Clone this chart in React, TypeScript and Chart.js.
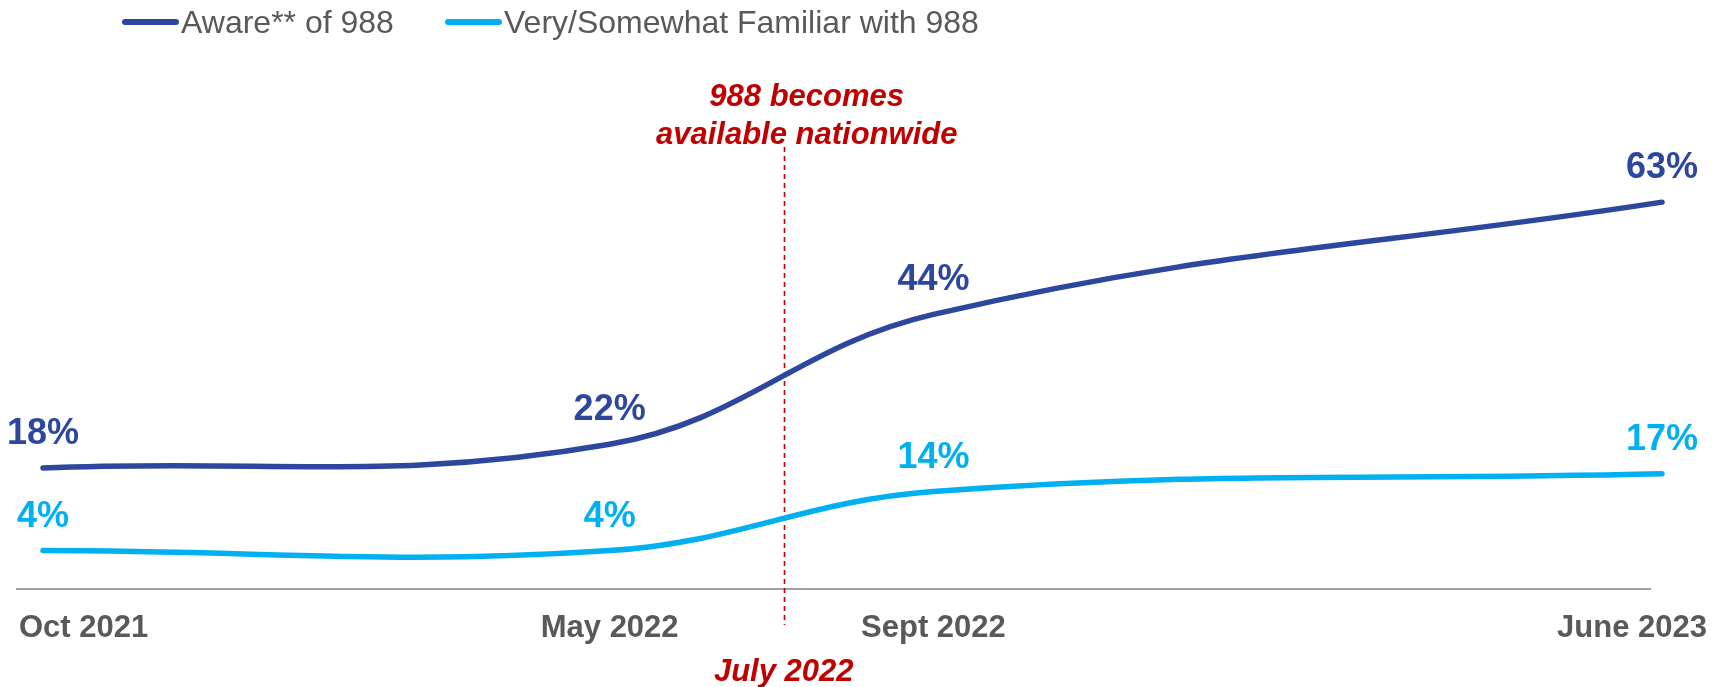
import React, { useEffect, useRef } from "react";
import { Chart, registerables } from "chart.js";

Chart.register(...registerables);

// ---- data ----
const categories = ["Oct 2021", "May 2022", "Sept 2022", "June 2023"];
const monthsSinceOct2021 = [0, 7, 11, 20];
const awareValues = [18, 22, 44, 63];
const familiarValues = [4, 4, 14, 17];
const seriesNames = ["Aware** of 988", "Very/Somewhat Familiar with 988"];
const eventMonth = 9.15; // July 2022 launch
const eventLabel = "July 2022";
const eventNote = ["988 becomes", "available nationwide"];

// ---- styles ----
const FONT = '"Liberation Sans", Arial, Helvetica, sans-serif';
const DARK_BLUE = "#2E479E";
const LIGHT_BLUE = "#00B0F0";
const RED = "#C00000";
const GRAY_TEXT = "#595959";
const AXIS_GRAY = "#808080";
const seriesColors = [DARK_BLUE, LIGHT_BLUE];

const overlayPlugin = {
  id: "overlay",
  beforeDatasetsDraw(chart: any) {
    const { ctx, chartArea, scales } = chart;
    const x = scales.x;
    ctx.save();
    // x-axis line
    ctx.strokeStyle = AXIS_GRAY;
    ctx.lineWidth = 1.5;
    ctx.beginPath();
    ctx.moveTo(chartArea.left - 27, chartArea.bottom);
    ctx.lineTo(chartArea.right - 11, chartArea.bottom);
    ctx.stroke();
    // event dashed line
    const ex = Math.round(x.getPixelForValue(eventMonth)) + 0.5;
    ctx.strokeStyle = RED;
    ctx.lineWidth = 1.6;
    ctx.setLineDash([5, 4]);
    ctx.beginPath();
    ctx.moveTo(ex, 147);
    ctx.lineTo(ex, chartArea.bottom + 36);
    ctx.stroke();
    ctx.restore();
  },
  afterDatasetsDraw(chart: any) {
    const { ctx, chartArea, scales } = chart;
    const x = scales.x;
    ctx.save();

    // data labels
    ctx.font = `bold 36px ${FONT}`;
    ctx.textAlign = "center";
    ctx.textBaseline = "alphabetic";
    chart.data.datasets.forEach((ds: any, di: number) => {
      const meta = chart.getDatasetMeta(di);
      ctx.fillStyle = seriesColors[di];
      meta.data.forEach((pt: any, i: number) => {
        const v = ds.data[i].y;
        ctx.fillText(`${v}%`, pt.x, pt.y - 24);
      });
    });

    // x category labels
    ctx.font = `bold 31px ${FONT}`;
    ctx.fillStyle = GRAY_TEXT;
    const baseY = chartArea.bottom + 48;
    categories.forEach((c, i) => {
      const px = x.getPixelForValue(monthsSinceOct2021[i]);
      if (i === 0) {
        ctx.textAlign = "left";
        ctx.fillText(c, px - 24, baseY);
      } else if (i === categories.length - 1) {
        ctx.textAlign = "right";
        ctx.fillText(c, px + 45, baseY);
      } else {
        ctx.textAlign = "center";
        ctx.fillText(c, px, baseY);
      }
    });

    // event annotations
    const ex = x.getPixelForValue(eventMonth);
    ctx.fillStyle = RED;
    ctx.font = `italic bold 31px ${FONT}`;
    ctx.textAlign = "center";
    ctx.fillText(eventLabel, ex, chartArea.bottom + 92);
    ctx.fillText(eventNote[0], ex + 23, 106);
    ctx.fillText(eventNote[1], ex + 23, 144);

    // legend
    ctx.font = `32px ${FONT}`;
    ctx.textAlign = "left";
    const legendX = [122, 445];
    seriesNames.forEach((name, i) => {
      const lx = legendX[i];
      ctx.strokeStyle = seriesColors[i];
      ctx.lineWidth = 6;
      ctx.lineCap = "round";
      ctx.beginPath();
      ctx.moveTo(lx + 3, 22);
      ctx.lineTo(lx + 54, 22);
      ctx.stroke();
      ctx.fillStyle = GRAY_TEXT;
      ctx.fillText(name, lx + 59, 33);
    });

    ctx.restore();
  },
};

export default function App() {
  const canvasRef = useRef<HTMLCanvasElement | null>(null);

  useEffect(() => {
    if (!canvasRef.current) return;
    const mk = (vals: number[]) =>
      vals.map((v, i) => ({ x: monthsSinceOct2021[i], y: v }));
    const chart = new Chart(canvasRef.current, {
      type: "line",
      data: {
        datasets: [
          {
            label: seriesNames[0],
            data: mk(awareValues),
            borderColor: DARK_BLUE,
            backgroundColor: DARK_BLUE,
            borderWidth: 5.5,
            borderCapStyle: "round",
            pointRadius: 0,
            tension: 0.4,
            clip: false,
          },
          {
            label: seriesNames[1],
            data: mk(familiarValues),
            borderColor: LIGHT_BLUE,
            backgroundColor: LIGHT_BLUE,
            borderWidth: 5.5,
            borderCapStyle: "round",
            pointRadius: 0,
            tension: 0.4,
            clip: false,
          },
        ],
      },
      options: {
        animation: false,
        responsive: true,
        maintainAspectRatio: false,
        layout: { padding: { left: 43, right: 52, top: 149, bottom: 98 } },
        plugins: {
          legend: { display: false },
          tooltip: { enabled: false },
        },
        scales: {
          x: { type: "linear", min: 0, max: 20, display: false },
          y: { type: "linear", min: -2.5, max: 72, display: false },
        },
      },
      plugins: [overlayPlugin],
    } as any);
    return () => chart.destroy();
  }, []);

  return (
    <div
      style={{
        position: "absolute",
        left: 0,
        top: 0,
        width: 1714,
        height: 687,
        background: "#fff",
      }}
    >
      <canvas ref={canvasRef} />
    </div>
  );
}
